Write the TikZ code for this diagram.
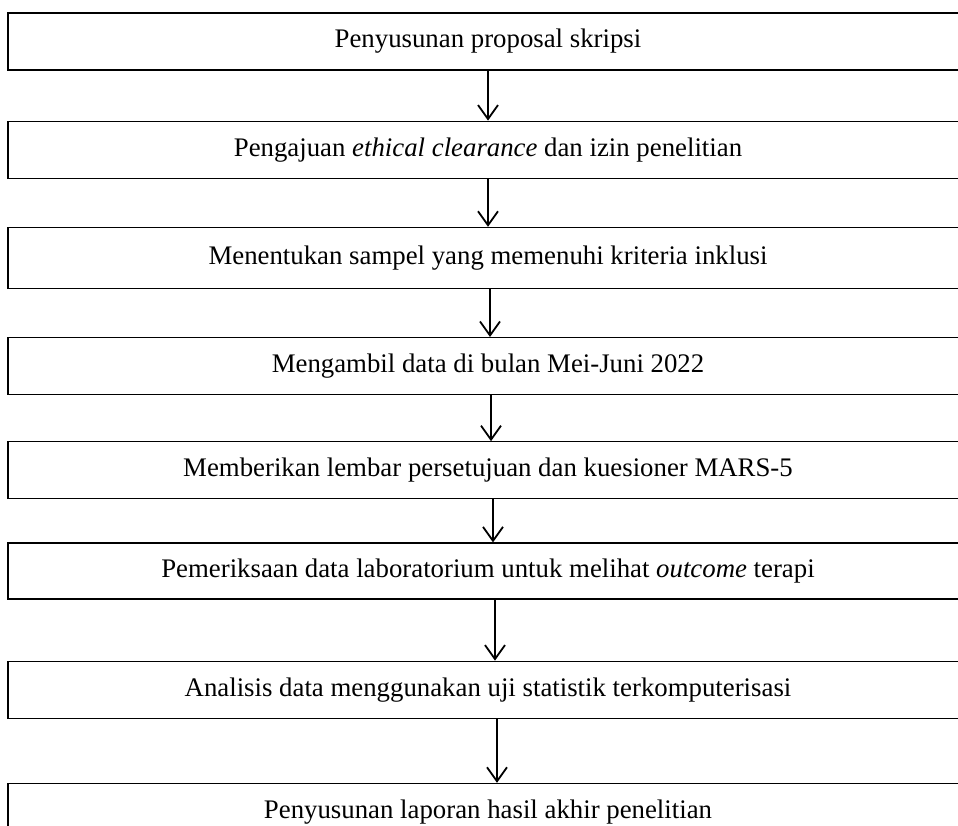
\documentclass[tikz,border=0pt]{standalone}
\usepackage{fontspec}
\setmainfont{Liberation Serif}
\usetikzlibrary{arrows.meta,positioning}
\tikzset{
  stepbox/.style={draw, line width=0.6pt, minimum height=28.5pt, minimum width=480pt, inner sep=0pt, align=center, font=\fontsize{13.4}{16}\selectfont},
  line/.style={-{Straight Barb[length=7pt,width=10pt]}, line width=0.9pt}
}
\begin{document}
\begin{tikzpicture}
  \clip[use as bounding box] (0,0) rectangle (479pt,-412.5pt);
  \node[stepbox] (proposal) at (244pt,-20.75pt) {Penyusunan proposal skripsi};
  \node[stepbox, below=25pt of proposal] (izin) {Pengajuan \textit{ethical clearance} dan izin penelitian};
  \node[stepbox, below=24pt of izin, minimum height=30.5pt] (sampel) {Menentukan sampel yang memenuhi kriteria inklusi};
  \node[stepbox, below=24pt of sampel] (ambil) {Mengambil data di bulan Mei-Juni 2022};
  \node[stepbox, below=23pt of ambil] (kuesioner) {Memberikan lembar persetujuan dan kuesioner MARS-5};
  \node[stepbox, below=21.5pt of kuesioner, minimum height=28pt] (lab) {Pemeriksaan data laboratorium untuk melihat \textit{outcome} terapi};
  \node[stepbox, below=30.5pt of lab] (analisis) {Analisis data menggunakan uji statistik terkomputerisasi};
  \node[stepbox, below=32pt of analisis] (laporan) {Penyusunan laporan hasil akhir penelitian};

  \draw[line] (proposal) -- (izin);
  \draw[line] (izin) -- (sampel);
  \draw[line] ([xshift=1pt]sampel.south) -- ([xshift=1pt]ambil.north);
  \draw[line] ([xshift=1.5pt]ambil.south) -- ([xshift=1.5pt]kuesioner.north);
  \draw[line] ([xshift=2.5pt]kuesioner.south) -- ([xshift=2.5pt]lab.north);
  \draw[line] ([xshift=3.5pt]lab.south) -- ([xshift=3.5pt]analisis.north);
  \draw[line] ([xshift=4.5pt]analisis.south) -- ([xshift=4.5pt]laporan.north);
\end{tikzpicture}
\end{document}
